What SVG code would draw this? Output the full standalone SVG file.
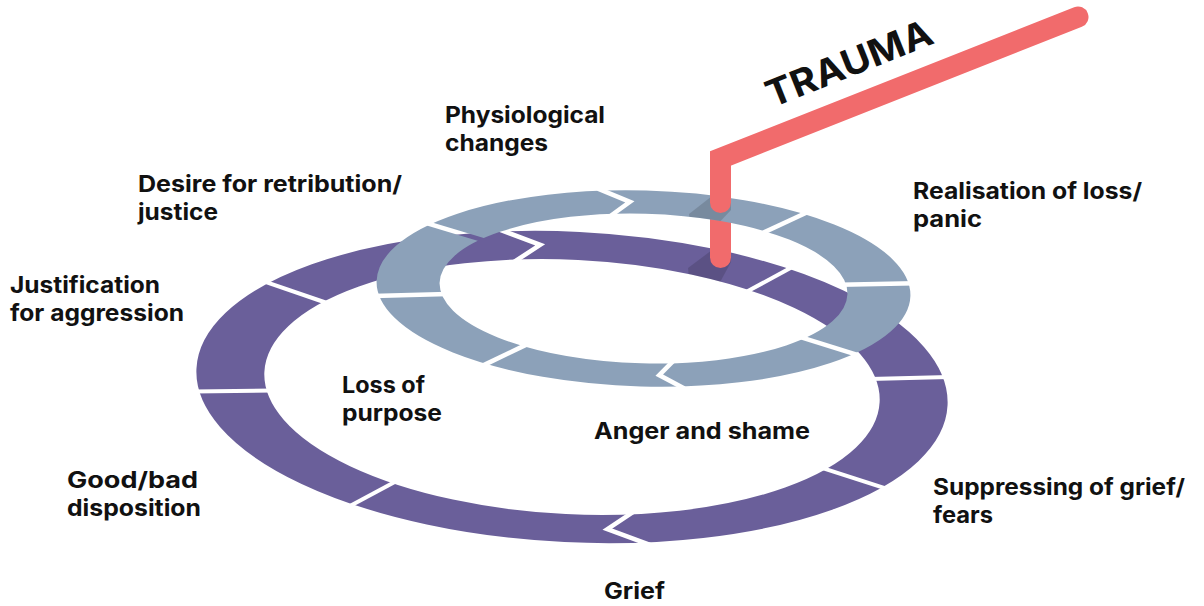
<svg xmlns="http://www.w3.org/2000/svg" width="1204" height="606" viewBox="0 0 1204 606">
  <style>
    .lbl { font-family: Inter, "Liberation Sans", sans-serif; font-weight: 700; font-size: 22.5px; fill: #111; }
    .ttl { font-family: Inter, "Liberation Sans", sans-serif; font-weight: 700; font-size: 37px; fill: #111; }
    .pdiv { stroke: #fff; stroke-width: 4; fill: none; stroke-linejoin: miter; }
    .ldiv { stroke: #000; stroke-width: 4.5; fill: none; stroke-linejoin: miter; }
    .pole { stroke: #f16b6c; stroke-width: 21; fill: none; stroke-linecap: round; }
    .shade { fill: #000; fill-opacity: 0.14; }
  </style>
  <defs>
    <clipPath id="cpPurple">
      <path transform="translate(572 387) rotate(2.8) scale(1 0.413)" clip-rule="evenodd" d="M376,0 A376,376 0 1,0 -376,0 A376,376 0 1,0 376,0 Z M308,0 A308,308 0 1,0 -308,0 A308,308 0 1,0 308,0 Z"/>
    </clipPath>
    <clipPath id="cpLight">
      <path transform="translate(643.5 288.5) rotate(1.6) scale(1 0.367)" clip-rule="evenodd" d="M267,0 A267,267 0 1,0 -267,0 A267,267 0 1,0 267,0 Z M204,0 A204,204 0 1,0 -204,0 A204,204 0 1,0 204,0 Z"/>
    </clipPath>
    <mask id="lightGaps" maskUnits="userSpaceOnUse" x="0" y="0" width="1204" height="606">
      <rect x="0" y="0" width="1204" height="606" fill="#fff"/>
      <polyline class="ldiv" points="597.9,188.6 629.9,201.9 610.4,216.0"/>
      <line class="ldiv" x1="807.3" y1="212.3" x2="762.3" y2="233.2"/>
      <line class="ldiv" x1="914.6" y1="283.3" x2="840.1" y2="284.7"/>
      <line class="ldiv" x1="858.9" y1="355.3" x2="799.7" y2="336.9"/>
      <polyline class="ldiv" points="684.4,388.6 659.2,375.1 673.1,361.1"/>
      <line class="ldiv" x1="482.7" y1="365.6" x2="526.9" y2="344.4"/>
      <line class="ldiv" x1="373.3" y1="295.9" x2="447.5" y2="293.9"/>
      <line class="ldiv" x1="425.8" y1="222.8" x2="485.6" y2="240.9"/>
    </mask>
  </defs>

  <rect width="1204" height="606" fill="#fff"/>

  <!-- outer (purple) cycle -->
  <g id="purple-ring">
    <g transform="translate(572 387) rotate(2.8) scale(1 0.413)">
      <circle cx="0" cy="0" r="342" fill="none" stroke="#6a5f9a" stroke-width="68"/>
    </g>
    <polyline class="pdiv" style="stroke-width:4.5" points="498.3,229.1 540.2,244.9 513.7,262.1"/>
    <line class="pdiv" x1="792.3" y1="267.0" x2="746.1" y2="292.1"/>
    <line class="pdiv" x1="948.7" y1="376.9" x2="869.8" y2="379.0"/>
    <line class="pdiv" x1="887.1" y1="488.9" x2="821.1" y2="467.6"/>
    <polyline class="pdiv" style="stroke-width:4.5" points="650.0,544.8 607.4,529.1 633.7,511.7"/>
    <line class="pdiv" x1="349.5" y1="506.3" x2="396.1" y2="481.3"/>
    <line class="pdiv" x1="193.4" y1="391.6" x2="272.7" y2="390.6"/>
    <line class="pdiv" x1="263.9" y1="281.3" x2="328.4" y2="303.5"/>
    <polygon class="shade" clip-path="url(#cpPurple)" points="712,250 731,250 731,262 718,286 690,286 688,268"/>
  </g>

  <!-- trauma pole, lower part (emerging below the inner cycle) -->
  <g id="trauma-pole-lower">
    <line class="pole" x1="720.5" y1="210" x2="720.5" y2="257.5"/>
  </g>

  <!-- inner (light) cycle -->
  <g id="light-ring" mask="url(#lightGaps)">
    <g transform="translate(643.5 288.5) rotate(1.6) scale(1 0.367)">
      <circle cx="0" cy="0" r="235.5" fill="none" stroke="#8ca1b9" stroke-width="63"/>
    </g>
    <polygon class="shade" clip-path="url(#cpLight)" points="712,196 731,196 731,210 716,226 690,226 689,214"/>
  </g>

  <!-- trauma pole, upper part -->
  <g id="trauma">
    <path class="pole" style="stroke-linejoin:miter" d="M1078,17 L720.5,158.5 L720.5,202.5"/>
    <text class="ttl" x="772" y="108" transform="rotate(-21.7 772 108)" textLength="176" lengthAdjust="spacingAndGlyphs">TRAUMA</text>
  </g>

  <g id="label-physiological">
    <text class="lbl" x="445" y="123" textLength="160" lengthAdjust="spacingAndGlyphs">Physiological</text>
    <text class="lbl" x="445" y="151" textLength="103" lengthAdjust="spacingAndGlyphs">changes</text>
  </g>
  <g id="label-desire">
    <text class="lbl" x="138" y="192" textLength="264" lengthAdjust="spacingAndGlyphs">Desire for retribution/</text>
    <text class="lbl" x="138" y="220" textLength="80" lengthAdjust="spacingAndGlyphs">justice</text>
  </g>
  <g id="label-justification">
    <text class="lbl" x="10" y="293" textLength="150" lengthAdjust="spacingAndGlyphs">Justification</text>
    <text class="lbl" x="10" y="321" textLength="174" lengthAdjust="spacingAndGlyphs">for aggression</text>
  </g>
  <g id="label-good-bad">
    <text class="lbl" x="67" y="488" textLength="131" lengthAdjust="spacingAndGlyphs">Good/bad</text>
    <text class="lbl" x="67" y="516" textLength="134" lengthAdjust="spacingAndGlyphs">disposition</text>
  </g>
  <g id="label-loss-purpose">
    <text class="lbl" x="342" y="393" textLength="83" lengthAdjust="spacingAndGlyphs">Loss of</text>
    <text class="lbl" x="342" y="421" textLength="100" lengthAdjust="spacingAndGlyphs">purpose</text>
  </g>
  <g id="label-anger">
    <text class="lbl" x="594" y="439" textLength="216" lengthAdjust="spacingAndGlyphs">Anger and shame</text>
  </g>
  <g id="label-grief">
    <text class="lbl" x="604" y="599" textLength="61" lengthAdjust="spacingAndGlyphs">Grief</text>
  </g>
  <g id="label-realisation">
    <text class="lbl" x="913" y="199" textLength="229" lengthAdjust="spacingAndGlyphs">Realisation of loss/</text>
    <text class="lbl" x="913" y="227" textLength="69" lengthAdjust="spacingAndGlyphs">panic</text>
  </g>
  <g id="label-suppressing">
    <text class="lbl" x="933" y="495" textLength="252" lengthAdjust="spacingAndGlyphs">Suppressing of grief/</text>
    <text class="lbl" x="933" y="523" textLength="60" lengthAdjust="spacingAndGlyphs">fears</text>
  </g>
</svg>
